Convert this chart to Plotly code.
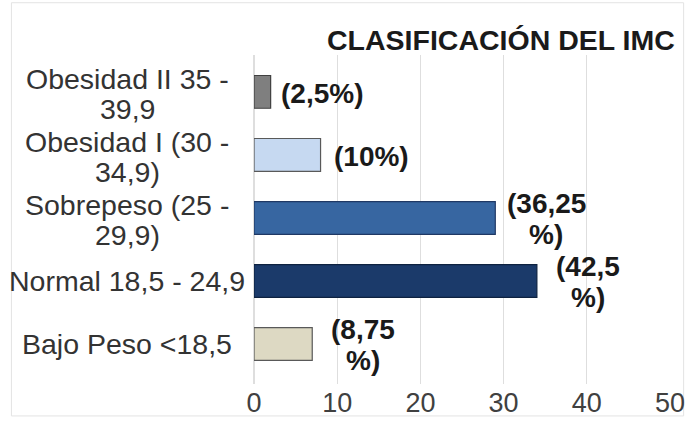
import plotly.graph_objects as go

categories = ["Bajo Peso <18,5", "Normal 18,5 - 24,9", "Sobrepeso (25 -<br>29,9)",
              "Obesidad I (30 -<br>34,9)", "Obesidad II 35 -<br>39,9"]
values = [7, 34, 29, 8, 2]
pct_labels = ["(8,75<br>%)", "(42,5<br>%)", "(36,25<br>%)", "(10%)", "(2,5%)"]
fill_colors = ["#ddd9c3", "#1b3a6a", "#3766a1", "#c6d9f1", "#7f7f7f"]
line_colors = ["#595959", "#0e2240", "#1f3864", "#595959", "#404040"]
x_ticks = [0, 10, 20, 30, 40, 50]
title_text = "CLASIFICACIÓN DEL IMC"

FONT = "Liberation Sans, Arial, sans-serif"
ypos = list(range(len(categories)))
L, R, T, B = 254, 16, 55, 35
PW, PH = 697 - L - R, 430 - T - B


def px(xp):
    return (xp - L) / PW


def py(yp):
    return (430 - B - yp) / PH


fig = go.Figure()
fig.add_trace(go.Bar(
    x=values, y=ypos, orientation="h", width=0.52,
    marker=dict(color=fill_colors, line=dict(color=line_colors, width=1.2)),
    hoverinfo="skip", showlegend=False,
))

annotations = []
# category labels, centered, one annotation per wrapped line
for yi, lab in zip(ypos, categories):
    lines = lab.split("<br>")
    n = len(lines)
    for k, ln in enumerate(lines):
        shift = 0 if n == 1 else (13 if k == 0 else -17)
        annotations.append(dict(
            x=px(124), xref="paper", y=yi, yref="y", text=ln, showarrow=False,
            xanchor="center", yanchor="middle", yshift=shift,
            font=dict(family=FONT, size=28.5, color="#333333")))
# value labels, centered in a box right of the bar end
for yi, v, lab in zip(ypos, values, pct_labels):
    lines = lab.split("<br>")
    n = len(lines)
    for k, ln in enumerate(lines):
        shift = -2 if n == 1 else (14 if k == 0 else -17)
        annotations.append(dict(
            x=v, xref="x", y=yi, yref="y", text="<b>" + ln + "</b>", showarrow=False,
            xanchor="center", yanchor="middle", xshift=51, yshift=shift,
            font=dict(family=FONT, size=28, color="#1a1a1a")))
annotations.append(dict(
    x=px(688), xref="paper", y=py(39), yref="paper", text="<b>" + title_text + "</b>",
    showarrow=False, xanchor="right", yanchor="middle",
    font=dict(family=FONT, size=28.5, color="#1a1a1a")))

fig.update_layout(
    width=697, height=430,
    margin=dict(l=L, r=R, t=T, b=B),
    paper_bgcolor="white", plot_bgcolor="white",
    xaxis=dict(range=[0, 50], tickvals=x_ticks, showgrid=True, gridcolor="#dedede",
               gridwidth=1, zeroline=True, zerolinecolor="#dedede", showline=False,
               ticks="", tickfont=dict(family=FONT, size=27, color="#404040"),
               fixedrange=True),
    yaxis=dict(range=[-0.635, 4.585], showticklabels=False, showgrid=False,
               zeroline=False, showline=False, ticks="", fixedrange=True),
    annotations=annotations,
    shapes=[dict(type="rect", xref="paper", yref="paper", x0=px(5), x1=px(695),
                 y0=py(428), y1=py(1), line=dict(color="#e3e3e3", width=1),
                 layer="below")],
    bargap=0.48,
)

fig.write_html("out.html", config={"displayModeBar": False},
               post_script="document.body.style.margin='0';document.body.style.overflow='hidden';")
